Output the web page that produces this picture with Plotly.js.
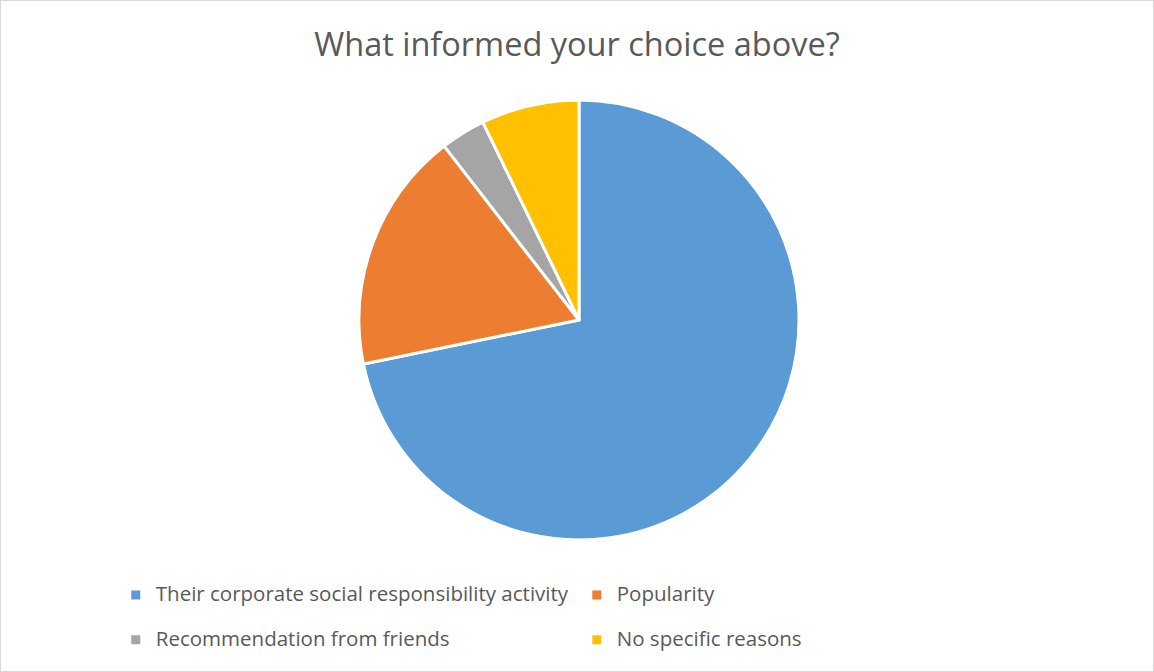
<!DOCTYPE html>
<html>
<head>
<meta charset="utf-8">
<script src="https://cdn.plot.ly/plotly-3.0.1.min.js"></script>
<style>
html,body{margin:0;padding:0;background:#fff;}
#chart{width:1152px;height:670px;border:1px solid #d9d9d9;}
</style>
</head>
<body>
<div id="chart"></div>
<script>
const categories = [
  "Their corporate social responsibility activity",
  "Popularity",
  "Recommendation from friends",
  "No specific reasons"
];
const values = [71.8, 17.7, 3.3, 7.2];
const colors = ["#5B9BD5", "#ED7D31", "#A5A5A5", "#FFC000"];
const titleText = "What informed your choice above?";

// larger visible text; the empty second line only gives the legend rows their taller spacing
const legendLabels = categories.map(c => '<span style="font-size:20.5px">' + c + '</span><br> ');

Plotly.newPlot("chart", [{
  type: "pie",
  labels: legendLabels,
  values: values,
  sort: false,
  direction: "clockwise",
  rotation: 0,
  textinfo: "none",
  hoverinfo: "percent",
  marker: {colors: colors, line: {color: "#ffffff", width: 3}}
}], {
  width: 1152,
  height: 670,
  paper_bgcolor: "#ffffff",
  margin: {l: 4, r: 0, t: 99, b: 131, autoexpand: false},
  title: {
    text: titleText,
    font: {family: "Open Sans", size: 32.5, color: "#595959"},
    x: 0.5, xanchor: "center", y: 0.935, yanchor: "middle"
  },
  showlegend: true,
  legend: {
    orientation: "h",
    x: 0.0965, xanchor: "left",
    y: -0.0868, yanchor: "top",
    entrywidth: 416,
    entrywidthmode: "pixels",
    valign: "top",
    font: {family: "Open Sans", size: 16, color: "#595959"},
    traceorder: "normal"
  }
}, {displayModeBar: false});
</script>
</body>
</html>
